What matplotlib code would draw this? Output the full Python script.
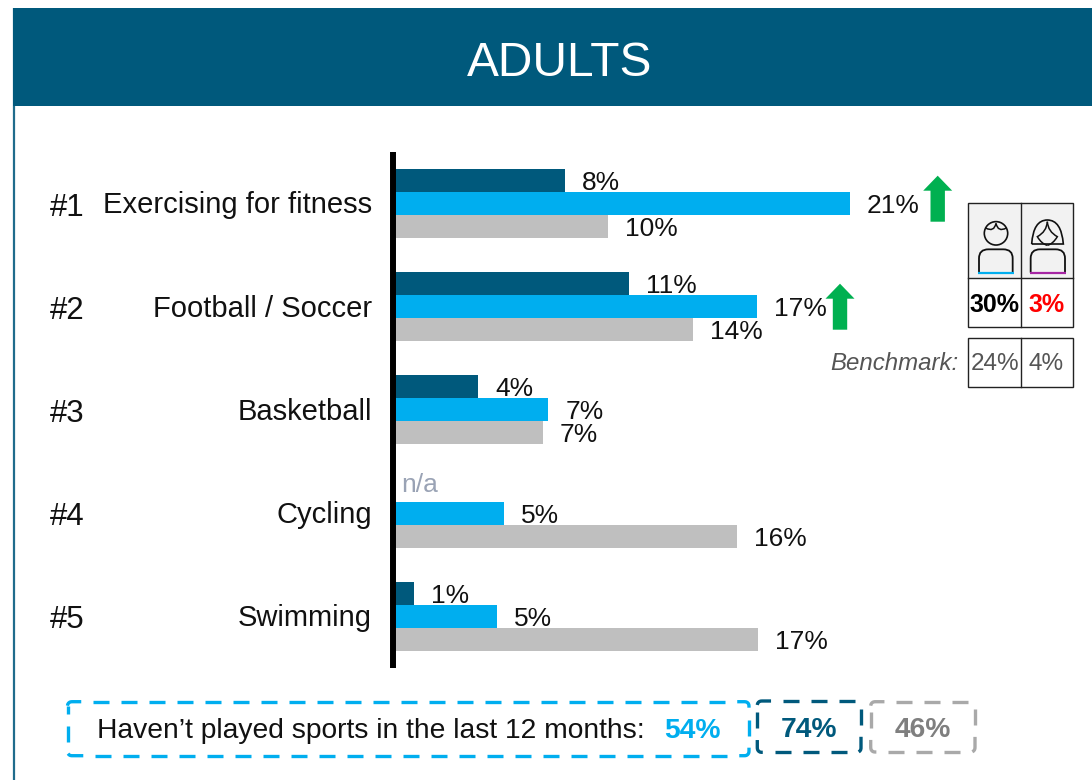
import matplotlib
matplotlib.use("Agg")
import matplotlib.pyplot as plt
from matplotlib.patches import Rectangle, Polygon, Circle, PathPatch
from matplotlib.path import Path
from matplotlib.transforms import ScaledTranslation
import numpy as np

plt.rcParams['font.family'] = ['Liberation Sans', 'DejaVu Sans']

title = "ADULTS"
categories = ["Exercising for fitness", "Football / Soccer", "Basketball", "Cycling", "Swimming"]
ranks = ["#1", "#2", "#3", "#4", "#5"]
series_dark = [8.0, 11.0, 3.9, None, 0.9]
series_blue = [21.35, 17.0, 7.2, 5.1, 4.8]
series_grey = [10.0, 14.0, 6.95, 16.05, 17.05]
labels_dark = ["8%", "11%", "4%", "n/a", "1%"]
labels_blue = ["21%", "17%", "7%", "5%", "5%"]
labels_grey = ["10%", "14%", "7%", "16%", "17%"]
gender_head = ["30%", "3%"]
gender_bench = ["24%", "4%"]
footer_text = "Haven\u2019t played sports in the last 12 months:"
footer_vals = ["54%", "74%", "46%"]

DARK = "#00597C"
BLUE = "#00AEEF"
GREY = "#BFBFBF"
GREEN = "#00B050"
W, H = 1092, 780

fig = plt.figure(figsize=(W / 100, H / 100), dpi=100, facecolor="white")

# page overlay in pixel coordinates
pg = fig.add_axes([0, 0, 1, 1], zorder=0)
pg.set_xlim(0, W)
pg.set_ylim(H, 0)
pg.axis("off")

pg.plot([13.8, 13.8], [8, 780], color="#1F6C8C", lw=1.6, solid_capstyle="butt", zorder=1)
pg.add_patch(Rectangle((12.5, 7.7), W - 12.5, 98.3, fc=DARK, ec="none", zorder=2))
pg.text(560, 63, title, color="white", fontsize=34.5, ha="center", va="center", zorder=3)

# chart
ax = fig.add_axes([395 / W, 1 - 668 / H, (1092 - 395) / W, (668 - 152) / H], zorder=2)
ax.patch.set_alpha(0)
xmax = (1092 - 395) / 21.3
ax.set_xlim(0, xmax)
ax.set_ylim(len(categories) - 0.5, -0.5)
for s in ["top", "right", "bottom"]:
    ax.spines[s].set_visible(False)
ax.spines["left"].set_linewidth(4.3)
ax.spines["left"].set_color("black")
ax.spines["left"].set_position(("outward", 1.5))
ax.spines["left"].set_capstyle("butt")
ax.set_xticks([])
ax.set_yticks(range(len(categories)))
ax.set_yticklabels(categories, fontsize=21, color="#111111")
ax.tick_params(axis="y", length=0, pad=15.2)
for t in ax.get_yticklabels():
    t.set_transform(t.get_transform() + ScaledTranslation(0, 1.2 / 100, fig.dpi_scale_trans))

bh = 23 / 103.2
for offset, vals, labs, col in [(-bh, series_dark, labels_dark, DARK),
                                (0, series_blue, labels_blue, BLUE),
                                (bh, series_grey, labels_grey, GREY)]:
    for i, (v, lab) in enumerate(zip(vals, labs)):
        y = i + offset
        if v is None:
            ax.annotate(lab, (0, y), xytext=(4.5, 5.5), textcoords="offset points",
                        fontsize=19, color="#9AA3B5", ha="left", va="center_baseline")
            continue
        ax.barh(y, v, height=bh, color=col, linewidth=0)
        ax.annotate(lab, (v, y), xytext=(12.2, 0.0), textcoords="offset points",
                    fontsize=19, color="#111111", ha="left", va="center_baseline")

for i, r in enumerate(ranks):
    pg.text(50, 208 + 103 * i, r, fontsize=22.5, color="#111111", ha="left", va="center")


def arrow(tipx, tipy):
    pts = [(tipx, tipy), (tipx + 14.5, tipy + 15), (tipx + 7.2, tipy + 15), (tipx + 7.2, tipy + 46),
           (tipx - 7.2, tipy + 46), (tipx - 7.2, tipy + 15), (tipx - 14.5, tipy + 15)]
    pg.add_patch(Polygon(pts, closed=True, fc=GREEN, ec="none"))


arrow(937.7, 175.7)
arrow(840, 283.7)

# gender table
L, M, R = 968.3, 1020.5, 1072.5
edge = "#222222"
pg.add_patch(Rectangle((L, 202.7), R - L, 75.3, fc="#F2F2F2", ec="none"))
for (t, b) in [(202.7, 327), (338, 387)]:
    pg.add_patch(Rectangle((L, t), R - L, b - t, fc="none", ec=edge, lw=1.0))
    pg.plot([M, M], [t, b], color=edge, lw=1.0)
pg.plot([L, R], [278, 278], color=edge, lw=1.0)
pg.text((L + M) / 2 + 0.5, 305, gender_head[0], fontsize=18, fontweight="bold", color="black", ha="center", va="center")
pg.text((M + R) / 2, 305, gender_head[1], fontsize=18, fontweight="bold", color="#FF0000", ha="center", va="center")
pg.text((L + M) / 2 + 0.5, 364, gender_bench[0], fontsize=17.5, color="#555555", ha="center", va="center")
pg.text((M + R) / 2, 364, gender_bench[1], fontsize=17.5, color="#555555", ha="center", va="center")
pg.text(958.5, 363, "Benchmark:", fontsize=17.3, style="italic", color="#555555", ha="right", va="center")


def z(x, y):
    return (820 + x / 3, 160 + y / 3)


def curve(points, codes, lw=1.1, col="#111111", fc="none"):
    pg.add_patch(PathPatch(Path([z(*p) for p in points], codes), fc=fc, ec=col, lw=lw))


def body(x0, x1):
    curve([(x0, 338), (x0, 295), (x0, 268), (x0 + 28, 268), (x1 - 28, 268), (x1, 268), (x1, 295), (x1, 338)],
          [Path.MOVETO, Path.LINETO, Path.CURVE3, Path.CURVE3, Path.LINETO, Path.CURVE3, Path.CURVE3, Path.LINETO], lw=1.3)


# man icon
pg.add_patch(Circle(z(528, 220), 11.7, fc="none", ec="#111111", lw=1.2))
curve([(497, 204), (522, 218), (528, 190)], [Path.MOVETO, Path.CURVE3, Path.CURVE3])
curve([(559, 204), (534, 218), (528, 190)], [Path.MOVETO, Path.CURVE3, Path.CURVE3])
body(477, 578)
pg.plot(*zip(z(474, 339), z(581, 339)), color=BLUE, lw=1.6, solid_capstyle="butt")

# woman icon
curve([(635, 252), (640, 180), (682, 180), (724, 180), (730, 252), (635, 252)],
      [Path.MOVETO, Path.CURVE3, Path.CURVE3, Path.CURVE3, Path.CURVE3, Path.LINETO], lw=1.2)
curve([(682, 185), (680, 215), (652, 230), (665, 252), (682, 256)],
      [Path.MOVETO, Path.CURVE3, Path.CURVE3, Path.CURVE3, Path.CURVE3])
curve([(682, 185), (684, 215), (712, 230), (699, 252), (682, 256)],
      [Path.MOVETO, Path.CURVE3, Path.CURVE3, Path.CURVE3, Path.CURVE3])
body(632, 735)
pg.plot(*zip(z(630, 339), z(738, 339)), color="#A626A4", lw=1.6, solid_capstyle="butt")


# footer dashed boxes: each dash is its own short stroke along the rounded outline
def dbox(x0, y0, x1, y1, col, r=4.0, dash=16.0, period=28.0):
    a = np.linspace(0, np.pi / 2, 6)
    xs, ys = [], []
    for cx, cy, start in [(x0 + r, y0 + r, np.pi), (x1 - r, y0 + r, 1.5 * np.pi),
                          (x1 - r, y1 - r, 0), (x0 + r, y1 - r, 0.5 * np.pi)]:
        xs.extend(cx + r * np.cos(start + a))
        ys.extend(cy + r * np.sin(start + a))
    xs = np.array(xs + [xs[0]])
    ys = np.array(ys + [ys[0]])
    s = np.concatenate([[0], np.cumsum(np.hypot(np.diff(xs), np.diff(ys)))])
    for st in np.arange(0, s[-1], period):
        q = np.linspace(st, min(st + dash, s[-1]), 12)
        pg.plot(np.interp(q, s, xs), np.interp(q, s, ys), color=col, lw=2.4, solid_capstyle="butt")


dbox(67.5, 701.7, 749, 755.7, BLUE)
dbox(757.3, 701, 861, 752.3, DARK)
dbox(870.7, 701.7, 975, 752, "#A9A9A9")
pg.text(97, 731, footer_text, fontsize=20.3, color="#111111", ha="left", va="center")
pg.text(692, 731, footer_vals[0], fontsize=20.3, fontweight="bold", color=BLUE, ha="center", va="center")
pg.text(809, 730, footer_vals[1], fontsize=20.3, fontweight="bold", color=DARK, ha="center", va="center")
pg.text(923, 730, footer_vals[2], fontsize=20.3, fontweight="bold", color="#7F7F7F", ha="center", va="center")

fig.savefig("out.png", dpi=100)
